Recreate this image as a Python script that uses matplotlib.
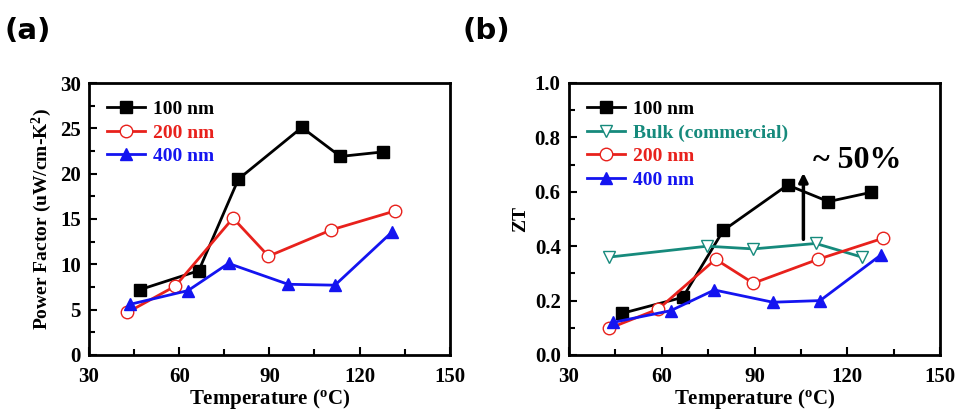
import matplotlib.pyplot as plt
from matplotlib.ticker import MultipleLocator

plt.rcParams['font.family'] = ['Liberation Serif', 'DejaVu Serif']
plt.rcParams['font.weight'] = 'bold'
plt.rcParams['mathtext.default'] = 'regular'

# power factor data (uW/cm-K^2)
t_pf_100 = [46.9, 66.5, 79.7, 100.8, 113.6, 127.8]
pf_100 = [7.2, 9.3, 19.4, 25.1, 21.9, 22.4]
t_pf_200 = [42.8, 58.7, 77.9, 89.7, 110.6, 131.9]
pf_200 = [4.7, 7.6, 15.1, 10.9, 13.8, 15.9]
t_pf_400 = [43.8, 62.9, 76.4, 96.2, 111.8, 130.9]
pf_400 = [5.6, 7.1, 10.1, 7.8, 7.7, 13.6]

# ZT data
t_zt_100 = [47.1, 66.8, 79.9, 100.7, 113.9, 127.7]
zt_100 = [0.153, 0.212, 0.458, 0.625, 0.564, 0.598]
t_zt_bulk = [43.0, 74.7, 89.6, 109.8, 124.7]
zt_bulk = [0.36, 0.40, 0.39, 0.41, 0.36]
t_zt_200 = [43.0, 58.9, 77.4, 89.6, 110.6, 131.5]
zt_200 = [0.098, 0.169, 0.352, 0.264, 0.352, 0.429]
t_zt_400 = [44.3, 62.9, 77.0, 95.9, 111.2, 130.9]
zt_400 = [0.12, 0.163, 0.239, 0.194, 0.20, 0.368]

black = '#000000'
red = '#e8211c'
blue = '#1414f0'
teal = '#168a7c'

fig = plt.figure(figsize=(9.57, 4.15), dpi=100)
ax1 = fig.add_axes([0.093, 0.1446, 0.377, 0.6554])
ax2 = fig.add_axes([0.5946, 0.1446, 0.3877, 0.6554])

lw = 2
ms = 8
ax1.plot(t_pf_100, pf_100, '-s', color=black, lw=lw, ms=ms, label='100 nm')
ax1.plot(t_pf_200, pf_200, '-o', color=red, mfc='white', mec=red, lw=lw, ms=ms + 1, label='200 nm')
ax1.plot(t_pf_400, pf_400, '-^', color=blue, lw=lw, ms=ms + 1, label='400 nm')

ax2.plot(t_zt_100, zt_100, '-s', color=black, lw=lw, ms=ms, label='100 nm')
ax2.plot(t_zt_bulk, zt_bulk, '-v', color=teal, mfc='white', mec=teal, lw=lw, ms=ms + 1, label='Bulk (commercial)')
ax2.plot(t_zt_200, zt_200, '-o', color=red, mfc='white', mec=red, lw=lw, ms=ms + 1, label='200 nm')
ax2.plot(t_zt_400, zt_400, '-^', color=blue, lw=lw, ms=ms + 1, label='400 nm')

ax2.annotate('', xy=(105.8, 0.68), xytext=(105.8, 0.415),
             arrowprops=dict(arrowstyle='-|>', color='black', lw=2.5, mutation_scale=13))
ax2.text(109, 0.715, '~ 50%', fontsize=23, fontweight='bold', va='center', ha='left')

for ax in (ax1, ax2):
    ax.set_xlim(30, 150)
    ax.xaxis.set_major_locator(MultipleLocator(30))
    ax.xaxis.set_minor_locator(MultipleLocator(15))
    ax.tick_params(which='both', direction='in', top=False, right=False, labelsize=15, width=1.5)
    ax.tick_params(which='major', length=6)
    ax.tick_params(which='minor', length=4)
    ax.tick_params(axis='x', pad=9)
    ax.tick_params(axis='y', pad=6)
    for s in ax.spines.values():
        s.set_linewidth(2)
    ax.set_xlabel('Temperature ($^{o}$C)', fontsize=15, fontweight='bold', labelpad=0)
    for lbl in ax.get_xticklabels() + ax.get_yticklabels():
        lbl.set_fontweight('bold')
    leg = ax.legend(loc='upper left', frameon=False, fontsize=14, handlelength=2,
                    handletextpad=0.4, labelspacing=0.3, borderaxespad=0.5)
    for txt, line in zip(leg.get_texts(), leg.get_lines()):
        txt.set_color(line.get_color())
        txt.set_fontweight('bold')

ax1.set_ylim(0, 30)
ax1.yaxis.set_major_locator(MultipleLocator(5))
ax1.yaxis.set_minor_locator(MultipleLocator(2.5))
ax1.set_ylabel('Power Factor (uW/cm-K$^{2}$)', fontsize=14, fontweight='bold', labelpad=4)

ax2.set_ylim(0, 1.0)
ax2.yaxis.set_major_locator(MultipleLocator(0.2))
ax2.yaxis.set_minor_locator(MultipleLocator(0.1))
ax2.yaxis.set_major_formatter(plt.FormatStrFormatter('%.1f'))
ax2.set_ylabel('ZT', fontsize=14, fontweight='bold', labelpad=4)

fig.text(0.005, 0.96, '(a)', fontsize=21, fontweight='bold', family='DejaVu Sans', va='top')
fig.text(0.483, 0.96, '(b)', fontsize=21, fontweight='bold', family='DejaVu Sans', va='top')

fig.savefig('out.png', dpi=100)
